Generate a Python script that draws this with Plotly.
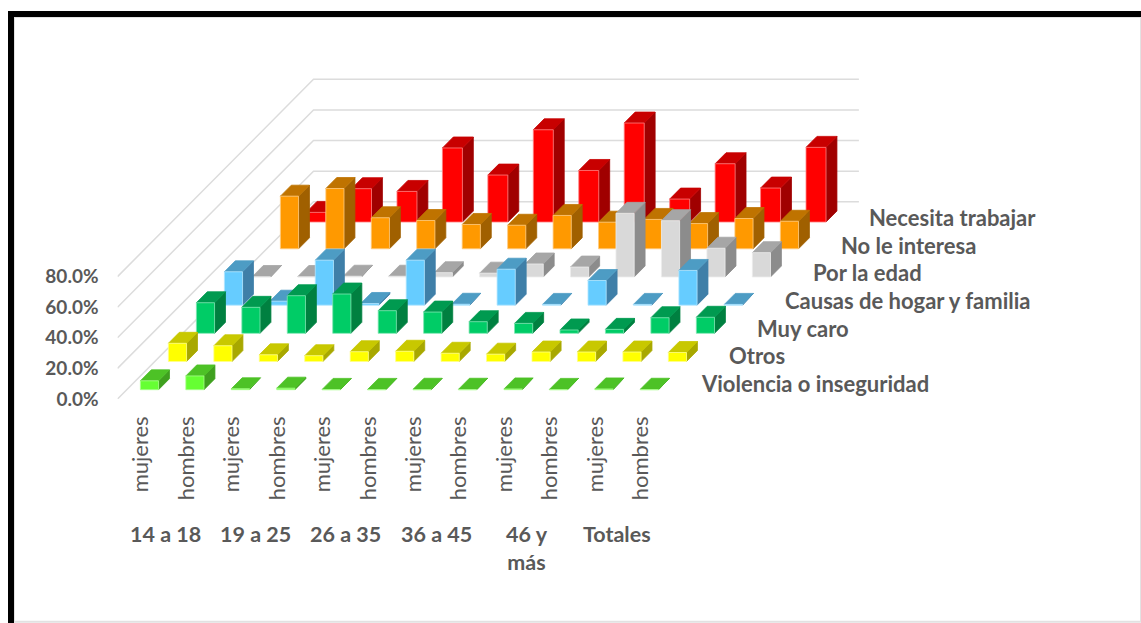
import plotly.graph_objects as go

# Age groups and the two bars drawn for each one
age_groups = ["14 a 18", "19 a 25", "26 a 35", "36 a 45", "46 y<br>más", "Totales"]
sexes = ["mujeres", "hombres"]
category_labels = [s for _ in age_groups for s in sexes]

# Reasons, nearest row first (percent)
series_names = ["Violencia o inseguridad", "Otros", "Muy caro", "Causas de hogar y familia",
                "Por la edad", "No le interesa", "Necesita trabajar"]
violencia = [5.8, 9.0, 0.6, 1.0, 0.2, 0.2, 0.3, 0.3, 0.5, 0.2, 0.5, 0.3]
otros = [11.9, 10.3, 4.4, 3.8, 6.4, 6.7, 5.4, 4.8, 6.2, 6.2, 6.2, 5.9]
muy_caro = [20.0, 17.0, 24.6, 25.7, 14.8, 13.9, 7.6, 6.5, 2.2, 2.6, 10.2, 10.5]
hogar = [21.8, 2.6, 29.4, 1.1, 29.4, 0.6, 23.5, 0.5, 16.1, 0.5, 22.7, 0.5]
edad = [0.3, 0.3, 0.5, 0.5, 2.8, 2.5, 8.5, 6.5, 41.6, 36.8, 18.8, 15.9]
no_interesa = [34.4, 39.4, 20.3, 18.5, 15.9, 15.4, 21.8, 17.4, 19.2, 16.5, 19.8, 18.0]
trabajar = [6.3, 21.8, 20.0, 48.4, 30.7, 60.3, 33.7, 64.7, 15.0, 38.1, 22.2, 48.8]
series_values = [violencia, otros, muy_caro, hogar, edad, no_interesa, trabajar]

y_ticks = [0, 20, 40, 60, 80]
y_tick_labels = ["0.0%", "20.0%", "40.0%", "60.0%", "80.0%"]

# (front, top, side) colours per row
face_colors = [
    ("#66FF33", "#4DC226", "#3FA01F"),
    ("#FFFF00", "#C8C800", "#A8A800"),
    ("#00CC66", "#009A50", "#008040"),
    ("#66CCFF", "#4D9CC4", "#3F7FA8"),
    ("#D9D9D9", "#A6A6A6", "#8C8C8C"),
    ("#FF9900", "#BF7300", "#A06000"),
    ("#FF0000", "#C80000", "#A00000"),
]
edge_colors = ["#A8FF8C", "#FFFF8C", "#7FE6B2", "#B2E6FF", "#ECECEC", "#FFCC80", "#FF8080"]

# Oblique projection: pixels per unit along each chart direction
PX_CAT = 45.45
PX_VAL = 1.53
PX_ROW_X = 28.0
PX_ROW_Y = 28.18
LEFT_PX = 117.5
BASE_PX = 399.0
WIDTH, HEIGHT = 1141, 623
N_ROWS = len(series_names)
N_CATS = len(category_labels)

BAR_DEPTH = 0.39
bar_widths = [0.40, 0.40, 0.40, 0.40, 0.40, 0.40, 0.44]
row_offsets = [0.33, 0.33, 0.33, 0.33, 0.33, 0.33, 0.28]


def project(cat, row, val):
    """Map (category, row, value) onto the flat x/y axes of the figure."""
    return cat + row * PX_ROW_X / PX_CAT, val + row * PX_ROW_Y / PX_VAL


def polygon(corners):
    xs, ys = zip(*[project(*c) for c in corners + corners[:1]])
    return list(xs) + [None], list(ys) + [None]


fig = go.Figure()

# Gridlines on the left and back walls
grid_x, grid_y = [], []
for v in y_ticks:
    for c in [(0, 0, v), (0, N_ROWS, v), (N_CATS, N_ROWS, v)]:
        px, py = project(*c)
        grid_x.append(px)
        grid_y.append(py)
    grid_x.append(None)
    grid_y.append(None)
fig.add_trace(go.Scatter(x=grid_x, y=grid_y, mode="lines",
                         line=dict(color="#DCDCDC", width=1.5), hoverinfo="skip"))

# Boxes, back row first so nearer rows cover farther ones
for r in range(N_ROWS - 1, -1, -1):
    w = bar_widths[r]
    d0 = row_offsets[r]
    d1 = d0 + BAR_DEPTH
    faces = {"side": ([], []), "top": ([], []), "front": ([], [])}
    for c, v in enumerate(series_values[r]):
        c0 = c + 0.5 - w / 2
        c1 = c0 + w
        shapes = {
            "side": [(c1, r + d0, 0), (c1, r + d1, 0), (c1, r + d1, v), (c1, r + d0, v)],
            "top": [(c0, r + d0, v), (c1, r + d0, v), (c1, r + d1, v), (c0, r + d1, v)],
            "front": [(c0, r + d0, 0), (c1, r + d0, 0), (c1, r + d0, v), (c0, r + d0, v)],
        }
        for name, corners in shapes.items():
            xs, ys = polygon(corners)
            faces[name][0].extend(xs)
            faces[name][1].extend(ys)
    colors = dict(zip(("front", "top", "side"), face_colors[r]))
    for name in ("side", "top", "front"):
        fig.add_trace(go.Scatter(
            x=faces[name][0], y=faces[name][1], mode="lines", fill="toself",
            fillcolor=colors[name], line=dict(color=edge_colors[r] if name == "front" else colors[name], width=0.8),
            name=series_names[r], hoverinfo="skip"))

annotations = []
TEXT_COLOR = "#595959"

# Row names beyond the right end of the floor
for r, name in enumerate(series_names):
    px, py = project(N_CATS, r + 0.5, 0)
    annotations.append(dict(x=px, y=py, xref="x", yref="y", text=name, showarrow=False,
                            xanchor="left", yanchor="middle", xshift=22, yshift=1.5 - 0.5 * r,
                            font=dict(family="Lato", size=22, color=TEXT_COLOR, weight=700)))

# Age group labels under each pair of bars
for i, label in enumerate(age_groups):
    annotations.append(dict(x=(165 + 90.4 * i) / WIDTH, y=1 - 519 / HEIGHT, xref="paper", yref="paper",
                            text=label, showarrow=False, xanchor="center", yanchor="top", align="center",
                            font=dict(family="Lato", size=21.5, color=TEXT_COLOR, weight=700)))

# Frame around the figure
shapes = [
    dict(type="rect", xref="paper", yref="paper", x0=14 / WIDTH, x1=1, y0=0.002, y1=1 - 17 / HEIGHT,
         line=dict(color="#E2E2E2", width=2), fillcolor="rgba(0,0,0,0)", layer="below"),
    dict(type="rect", xref="paper", yref="paper", x0=8 / WIDTH, x1=14 / WIDTH, y0=0, y1=1 - 11 / HEIGHT,
         line=dict(width=0), fillcolor="#000000"),
    dict(type="rect", xref="paper", yref="paper", x0=8 / WIDTH, x1=1, y0=1 - 17 / HEIGHT, y1=1 - 11 / HEIGHT,
         line=dict(width=0), fillcolor="#000000"),
]

fig.update_layout(
    width=WIDTH, height=HEIGHT, margin=dict(l=0, r=0, t=0, b=0, autoexpand=False),
    paper_bgcolor="white", plot_bgcolor="rgba(0,0,0,0)", showlegend=False,
    annotations=annotations, shapes=shapes,
    xaxis=dict(domain=[LEFT_PX / WIDTH, 1], range=[0, (WIDTH - LEFT_PX) / PX_CAT],
               tickmode="array", tickvals=[c + 0.52 for c in range(N_CATS)], ticktext=category_labels,
               tickangle=-90, ticks="", showgrid=False, zeroline=False, showline=False,
               ticklabelstandoff=12,
               tickfont=dict(family="Lato", size=22, color=TEXT_COLOR)),
    yaxis=dict(domain=[(HEIGHT - BASE_PX) / HEIGHT, 1], range=[0, BASE_PX / PX_VAL],
               tickmode="array", tickvals=y_ticks, ticktext=y_tick_labels,
               ticks="", showgrid=False, zeroline=False, showline=False,
               ticklabelstandoff=18,
               tickfont=dict(family="Lato", size=19, color=TEXT_COLOR, weight=700)),
)

fig.write_html("out.html")
